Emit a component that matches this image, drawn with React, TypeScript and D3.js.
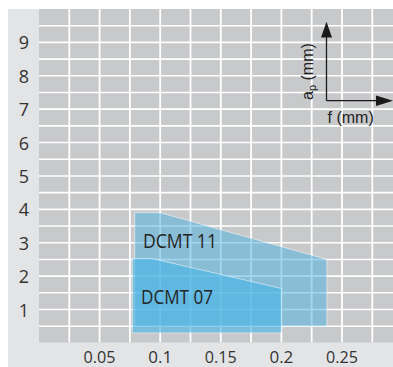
import React from "react";
import * as d3 from "d3";

const xTicks = [0.05, 0.1, 0.15, 0.2, 0.25];
const xTickLabels = ["0.05", "0.1", "0.15", "0.2", "0.25"];
const yTicks = [1, 2, 3, 4, 5, 6, 7, 8, 9];
const yTickLabels = ["1", "2", "3", "4", "5", "6", "7", "8", "9"];

const dcmt11F = [0.079, 0.079, 0.1, 0.2375, 0.2375];
const dcmt11Ap = [0.5, 3.9, 3.9, 2.5, 0.5];
const dcmt07F = [0.077, 0.077, 0.093, 0.2, 0.2];
const dcmt07Ap = [0.3, 2.53, 2.53, 1.63, 0.3];

const seriesNames = ["DCMT 11", "DCMT 07"];
const labelF = [0.0858, 0.0842];
const labelAp = [2.83, 1.165];

export default function App() {
  const W = 393;
  const H = 367;
  const x = d3.scaleLinear().domain([0, 0.3]).range([39, 402.6]);
  const y = d3.scaleLinear().domain([0, 10]).range([342.9, 9]);
  const plotL = 39,
    plotR = W,
    plotT = 9,
    plotB = 342.5;

  const vGrid = d3.range(1, 12).map((i) => i * 0.025);
  const hGrid = d3.range(1, 20).map((i) => i * 0.5);

  const line = d3
    .line<[number, number]>()
    .x((d) => x(d[0]))
    .y((d) => y(d[1]));
  const poly11 = line(dcmt11F.map((f, i) => [f, dcmt11Ap[i]] as [number, number])) + "Z";
  const poly07 = line(dcmt07F.map((f, i) => [f, dcmt07Ap[i]] as [number, number])) + "Z";

  const font = "'Open Sans', 'DejaVu Sans', sans-serif";
  const axFont = "'Liberation Sans', Arial, sans-serif";

  return (
    <svg
      width={W}
      height={H}
      style={{ position: "absolute", left: 0, top: 0, display: "block" }}
    >
      <defs>
        <clipPath id="plotclip">
          <rect x={plotL} y={plotT} width={plotR - plotL} height={plotB - plotT} />
        </clipPath>
      </defs>
      <rect x={0} y={0} width={W} height={H} fill="#ffffff" />
      <rect x={8} y={9} width={W - 8} height={H - 9} fill="#e3e4e5" />
      <rect x={plotL} y={plotT} width={plotR - plotL} height={plotB - plotT} fill="#c8c9cb" />
      <g clipPath="url(#plotclip)">
        {vGrid.map((v, i) => (
          <line key={"v" + i} x1={x(v)} x2={x(v)} y1={plotT} y2={plotB} stroke="#ffffff" strokeWidth={1.8} />
        ))}
        {hGrid.map((v, i) => (
          <line key={"h" + i} x1={plotL} x2={plotR} y1={y(v)} y2={y(v)} stroke="#ffffff" strokeWidth={1.6} />
        ))}
        <path d={poly11} fill="#4aafe0" fillOpacity={0.5} stroke="#ffffff" strokeOpacity={0.5} strokeWidth={1} />
        <path d={poly07} fill="#45b4e6" fillOpacity={0.6} stroke="#ffffff" strokeOpacity={0.5} strokeWidth={1} />
      </g>
      {seriesNames.map((s, i) => (
        <text
          key={s}
          x={x(labelF[i])}
          y={y(labelAp[i])}
          fontFamily={font}
          fontSize={20}
          fill="#252525"
          textLength={i === 0 ? 74 : 72}
          lengthAdjust="spacingAndGlyphs"
        >
          {s}
        </text>
      ))}
      {yTicks.map((t, i) => (
        <text
          key={"yt" + i}
          x={24}
          y={y(t) + 7}
          textAnchor="middle"
          fontFamily={font}
          fontSize={18}
          fill="#333333"
        >
          {yTickLabels[i]}
        </text>
      ))}
      {xTicks.map((t, i) => (
        <text
          key={"xt" + i}
          x={x(t)}
          y={363}
          textAnchor="middle"
          fontFamily={font}
          fontSize={17}
          fill="#333333"
          textLength={i === 1 || i === 3 ? undefined : 32}
          lengthAdjust="spacingAndGlyphs"
        >
          {xTickLabels[i]}
        </text>
      ))}
      {/* inset axes indicator */}
      <g stroke="#1a1a1a" strokeWidth={1.3} fill="none">
        <line x1={326.5} y1={35} x2={326.5} y2={100.7} />
        <line x1={326.5} y1={100.7} x2={378} y2={100.7} />
      </g>
      <path d="M326.5,21.7 L321,37.5 L332,37.5 Z" fill="#1a1a1a" />
      <path d="M393,100.7 L376,95.5 L376,105.9 Z" fill="#1a1a1a" />
      <text x={327.5} y={123} fontFamily={axFont} fontSize={16} fill="#222222">
        f (mm)
      </text>
      <text transform="translate(313,100) rotate(-90)" fontFamily={axFont} fontSize={16} fill="#222222">
        a
        <tspan fontSize={11} dy={3}>p</tspan>
        <tspan dy={-3}> (mm)</tspan>
      </text>
    </svg>
  );
}
